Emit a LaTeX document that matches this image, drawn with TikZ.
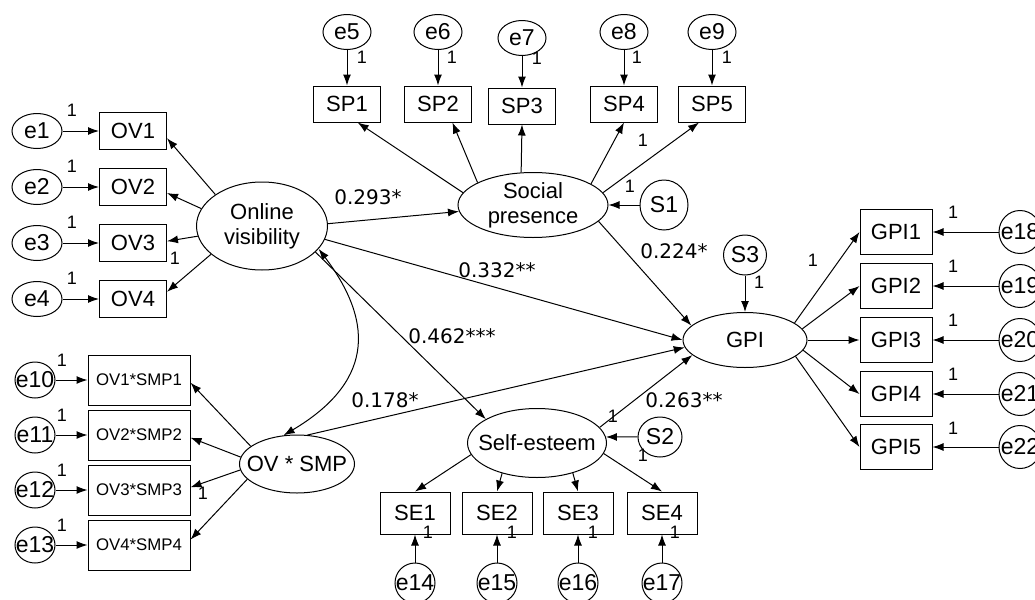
\documentclass[tikz,border=0pt]{standalone}
\usepackage{fontspec}
\setmainfont{Liberation Sans}
\newfontfamily\coeffont{DejaVu Sans}
\usetikzlibrary{shapes.geometric,arrows.meta}

\tikzset{
  >={Latex[length=5.5pt,width=4pt]},
  ind/.style={draw, rectangle, inner sep=0pt, minimum width=33.5pt, minimum height=18.5pt, font=\fontsize{11}{13}\selectfont},
  indint/.style={ind, minimum width=51pt, minimum height=25pt, font=\fontsize{8.4}{10}\selectfont},
  lat/.style={draw, ellipse, inner sep=0pt, label={[align=center, inner sep=0pt, font=\fontsize{11}{12.5}\selectfont]center:#1}},
  err/.style={draw, ellipse, inner sep=0pt, minimum width=25pt, minimum height=17.5pt, label={[inner sep=0pt, font=\fontsize{11.5}{13}\selectfont]center:#1}},
  one/.style={inner sep=0pt, font=\fontsize{9}{10}\selectfont},
  coef/.style={inner sep=0pt, font=\coeffont\fontsize{10}{12}\selectfont}
}

\begin{document}
\begin{tikzpicture}[x=0.5pt,y=-0.5pt,line width=0.5pt]
\useasboundingbox (0,0) rectangle (1035,600);
\clip (0,0) rectangle (1035,600);

% latent variables
\node[lat={Online\\visibility}, minimum width=65.5pt, minimum height=44pt] (ov) at (262,226) {};
\node[lat={Social\\presence}, minimum width=75pt, minimum height=32.5pt] (sp) at (533,205) {};
\node[lat={GPI}, minimum width=62pt, minimum height=27.5pt] (gpi) at (745,340) {};
\node[lat={Self-esteem}, minimum width=69.5pt, minimum height=34.5pt] (se) at (537,443) {};
\node[lat={OV * SMP}, minimum width=57.5pt, minimum height=29pt] (ovsmp) at (297,464) {};

% disturbances
\node[err=S1, minimum width=24pt, minimum height=25pt] (s1) at (664,205) {};
\node[err=S2, minimum width=22pt, minimum height=20pt] (s2) at (660,437) {};
\node[err=S3, minimum width=21.5pt, minimum height=20pt] (s3) at (745,255) {};

% online visibility items
\foreach \i/\y in {1/131,2/187,3/243,4/299}{
  \node[ind] (ov\i) at (133,\y) {OV\i};
  \node[err=e\i] (e\i) at (37,\y) {};
  \draw[->] (e\i) -- (ov\i);
}

% interaction items
\foreach \i/\y/\e in {1/380/10,2/435/11,3/490/12,4/545/13}{
  \node[indint] (ovsmp\i) at (139,\y) {OV\i*SMP\i};
  \node[err=e\e, minimum width=20pt, minimum height=18pt] (e\e) at (35,\y) {};
  \draw[->] (e\e) -- (ovsmp\i);
}

% social presence items
\foreach \i/\x/\sy/\ey/\e in {1/347/104/32/5,2/438/104/32/6,3/522/106/38/7,4/624/104/32/8,5/712/104/32/9}{
  \node[ind, minimum height=18pt] (sp\i) at (\x,\sy) {SP\i};
  \node[err=e\e, minimum width=24pt, minimum height=17.5pt] (e\e) at (\x,\ey) {};
  \draw[->] (e\e) -- (sp\i);
}

% GPI items
\foreach \i/\y/\e in {1/232/18,2/286/19,3/340/20,4/394/21,5/447/22}{
  \node[ind, minimum width=36pt, minimum height=22.5pt] (gpi\i) at (896,\y) {GPI\i};
  \node[err=e\e, minimum width=21pt, minimum height=21.5pt] (e\e) at (1020,\y) {};
  \draw[->] (e\e) -- (gpi\i);
}

% self-esteem items
\foreach \i/\x/\e in {1/415/14,2/497/15,3/578/16,4/662/17}{
  \node[ind, minimum width=35pt, minimum height=21pt] (se\i) at (\x,513) {SE\i};
  \node[err=e\e, minimum width=20pt, minimum height=20pt] (e\e) at (\x,583) {};
  \draw[->] (e\e) -- (se\i);
}

% loadings
\draw[->] (ov.146) -- (ov1.-12);
\draw[->] (ov.164) -- (ov2.-10);
\draw[->] (ov.189) -- (ov3.3);
\draw[->] (ov.209) -- (ov4.12);
\draw[->] (ovsmp.159) -- (ovsmp1.-3);
\draw[->] (ovsmp.173) -- (ovsmp2.-3);
\draw[->] (ovsmp.186) -- (ovsmp3.3);
\draw[->] (ovsmp.197) -- (ovsmp4.6);
\draw[->] (sp.170) -- (sp1.-60);
\draw[->] (sp.158) -- (sp2.-52);
\draw[->] (sp.110) -- (sp3.south);
\draw[->] (sp.20) -- (sp4.south);
\draw[->] (sp.10) -- (sp5.-125);
\draw[->] (se.190) -- (se1.north);
\draw[->] (se.221) -- (se2.north);
\draw[->] (se.-40) -- (se3.north);
\draw[->] (se.-9) -- (se4.north);
\draw[->] (gpi.19) -- (gpi1.west);
\draw[->] (gpi.11) -- (gpi2.west);
\draw[->] (gpi) -- (gpi3);
\draw[->] (gpi.-10) -- (gpi4.west);
\draw[->] (gpi.-18) -- (gpi5.west);

% structural paths
\draw[->] (ov.2) -- (sp.185);
\draw[->] (ov.-12) -- (gpi.west);
\draw[->] (ov.-26) -- (se.155);
\draw[->] (sp.-14) -- (gpi.165);
\draw[->] (ovsmp.70) -- (gpi.187);
\draw[->] (se.14) -- (gpi.196);
\draw[<->] (ov.-22) .. controls (377,326) and (370,384) .. (ovsmp.115);
\draw[->] (s1) -- (sp);
\draw[->] (s2) -- (se.5);
\draw[->] (s3) -- (gpi);

% coefficients
\node[coef] (c1) at (368,197) {0.293*};
\node[coef] (c2) at (674,251) {0.224*};
\node[coef] (c3) at (497,270) {0.332**};
\node[coef] (c4) at (452,336) {0.462***};
\node[coef] (c5) at (385,400) {0.178*};
\node[coef] (c6) at (684,400) {0.263**};

% fixed parameters
\foreach \x/\y [count=\n] in {72/110,72/166,72/222,72/278,175/258,62/360,62/415,62/470,62/525,203/493,
    362/57,452/57,537/58,637/57,727/57,643/140,630/186,759/282,613/416,643/455,
    428/532,512/532,593/532,675/532,813/260,953/212,953/266,953/320,953/374,953/428}
  \node[one] (one\n) at (\x,\y) {1};
\end{tikzpicture}
\end{document}
